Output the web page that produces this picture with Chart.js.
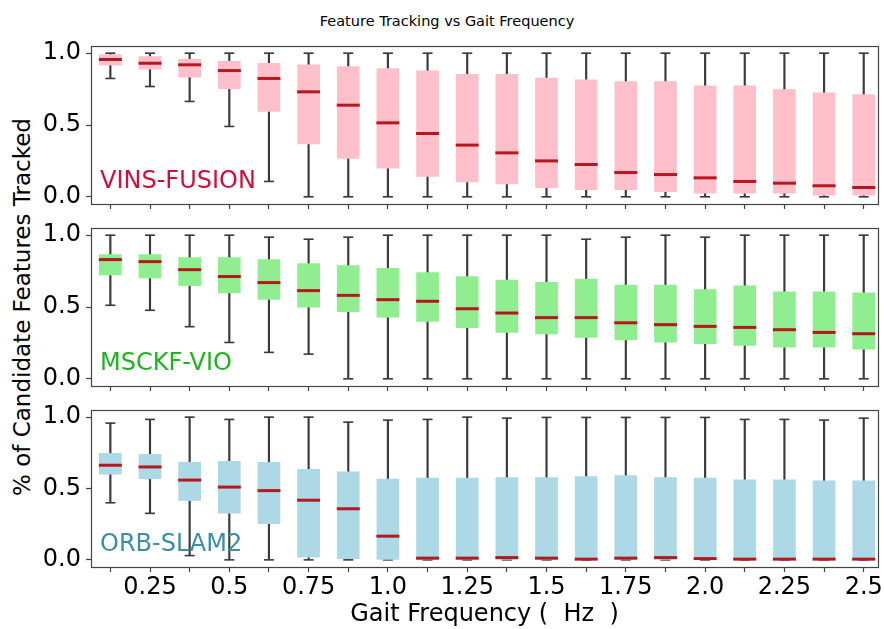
<!DOCTYPE html>
<html>
<head>
<meta charset="utf-8">
<script src="https://cdn.jsdelivr.net/npm/chart.js@4.4.1/dist/chart.umd.min.js"></script>
<style>
  body { margin: 0; background: #fff; width: 884px; height: 629px; position: relative; overflow: hidden; font-family: 'DejaVu Sans', sans-serif; }
  canvas { position: absolute; left: 0; }
  #title { position: absolute; top: 14px; left: 447px; transform: translateX(-50%); font-size: 14.5px; line-height: 1; white-space: nowrap; color: #000; }
  #ylab { position: absolute; left: 22px; top: 307px; transform: translate(-50%, -50%) rotate(-90deg); font-size: 23px; line-height: 1; white-space: nowrap; color: #000; }
</style>
</head>
<body>
<div id="title">Feature Tracking vs Gait Frequency</div>
<div id="ylab">% of Candidate Features Tracked</div>
<canvas id="vins" width="884" height="180" style="top:40px"></canvas>
<canvas id="msckf" width="884" height="180" style="top:222px"></canvas>
<canvas id="orb" width="884" height="226" style="top:403px"></canvas>
<script>
// gait frequencies (Hz), one box per value
const gaitFreq = [0.125, 0.25, 0.375, 0.5, 0.625, 0.75, 0.875, 1.0, 1.125, 1.25,
                  1.375, 1.5, 1.625, 1.75, 1.875, 2.0, 2.125, 2.25, 2.375, 2.5];
const tickLabels = ['', '0.25', '', '0.5', '', '0.75', '', '1.0', '', '1.25',
                    '', '1.5', '', '1.75', '', '2.0', '', '2.25', '', '2.5'];
const yTicks = [0, 0.5, 1.0];

// VINS-FUSION
const vinsMin = [0.824, 0.768, 0.664, 0.49, 0.107, 0, 0, 0, 0, 0, 0, 0, 0, 0, 0, 0, 0, 0, 0, 0];
const vinsQ1  = [0.917, 0.889, 0.833, 0.752, 0.594, 0.369, 0.267, 0.2, 0.142, 0.104, 0.09, 0.063, 0.049, 0.049, 0.035, 0.026, 0.026, 0.026, 0.012, 0.012];
const vinsMed = [0.956, 0.93, 0.919, 0.879, 0.824, 0.731, 0.638, 0.515, 0.441, 0.36, 0.306, 0.25, 0.225, 0.169, 0.155, 0.132, 0.107, 0.095, 0.077, 0.065];
const vinsQ3  = [0.99, 0.977, 0.958, 0.944, 0.93, 0.919, 0.907, 0.893, 0.877, 0.852, 0.852, 0.826, 0.814, 0.803, 0.803, 0.773, 0.773, 0.747, 0.724, 0.712];
const vinsMax = [1, 1, 1, 1, 1, 1, 1, 1, 1, 1, 1, 1, 1, 1, 1, 1, 1, 1, 1, 1];

// MSCKF-VIO
const msckfMin = [0.512, 0.477, 0.363, 0.253, 0.184, 0.172, 0, 0, 0, 0, 0, 0, 0, 0, 0, 0, 0, 0, 0, 0];
const msckfQ1  = [0.723, 0.702, 0.649, 0.598, 0.553, 0.498, 0.467, 0.43, 0.4, 0.356, 0.323, 0.312, 0.288, 0.27, 0.256, 0.244, 0.233, 0.221, 0.221, 0.207];
const msckfMed = [0.83, 0.816, 0.76, 0.712, 0.67, 0.614, 0.581, 0.551, 0.54, 0.488, 0.458, 0.426, 0.426, 0.39, 0.377, 0.365, 0.358, 0.342, 0.323, 0.314];
const msckfQ3  = [0.865, 0.865, 0.844, 0.844, 0.83, 0.802, 0.788, 0.77, 0.74, 0.712, 0.688, 0.672, 0.695, 0.653, 0.653, 0.621, 0.647, 0.605, 0.605, 0.598];
const msckfMax = [1, 1, 1, 1, 0.986, 0.972, 0.986, 1, 1, 1, 1, 1, 0.972, 0.986, 1, 0.986, 1, 1, 1, 1];

// ORB-SLAM2
const orbMin = [0.4, 0.326, 0.03, 0, 0, 0, 0, 0, 0, 0, 0, 0, 0, 0, 0, 0, 0, 0, 0, 0];
const orbQ1  = [0.6, 0.568, 0.416, 0.328, 0.254, 0.018, 0.009, 0, 0, 0, 0, 0, 0, 0, 0, 0, 0, 0, 0, 0];
const orbMed = [0.663, 0.651, 0.559, 0.51, 0.485, 0.418, 0.358, 0.166, 0.012, 0.012, 0.016, 0.012, 0.005, 0.012, 0.016, 0.009, 0.005, 0.005, 0.005, 0.005];
const orbQ3  = [0.746, 0.739, 0.684, 0.69, 0.684, 0.635, 0.617, 0.566, 0.573, 0.573, 0.577, 0.577, 0.584, 0.591, 0.577, 0.573, 0.561, 0.561, 0.554, 0.554];
const orbMax = [0.958, 0.984, 1.0, 0.984, 1.0, 1.0, 0.965, 0.979, 0.984, 1.0, 0.993, 0.998, 0.998, 0.998, 0.998, 0.998, 0.984, 0.984, 0.979, 0.993];

const FONT = "'DejaVu Sans', sans-serif";
const LINE = '#3a3a3a';

// frame around plot area + method name in lower left
const panelLabel = {
  id: 'panelLabel',
  afterDraw(chart, args, opts) {
    const { ctx, chartArea } = chart;
    ctx.save();
    ctx.strokeStyle = '#444';
    ctx.lineWidth = 1.2;
    ctx.strokeRect(Math.round(chartArea.left) + 0.5, Math.round(chartArea.top) + 0.5,
      Math.round(chartArea.right - chartArea.left), Math.round(chartArea.bottom - chartArea.top));
    ctx.font = '24px ' + FONT;
    ctx.fillStyle = opts.color;
    ctx.textBaseline = 'alphabetic';
    ctx.fillText(opts.text, chartArea.left + 9, chartArea.bottom - 16);
    ctx.restore();
  }
};

const pts = (arr) => arr.map((v, i) => ({ x: gaitFreq[i], y: v }));

function makePanel(id, name, nameColor, boxColor, mins, q1, med, q3, maxs, showX, padTop, xHeight) {
  const ctx = document.getElementById(id).getContext('2d');
  return new Chart(ctx, {
    type: 'bar',
    data: {
      datasets: [{
        label: 'whisker',
        data: mins.map((v, i) => ({ x: gaitFreq[i], y: [v, maxs[i]] })),
        backgroundColor: LINE,
        barThickness: 1.5,
        grouped: false,
        order: 4
      },
      {
        type: 'scatter',
        label: 'caps',
        data: pts(mins).concat(pts(maxs)),
        pointStyle: 'line',
        pointRadius: 5,
        pointBorderWidth: 1.6,
        borderColor: LINE,
        pointBorderColor: LINE,
        order: 3
      },
      {
        label: 'box',
        data: q1.map((v, i) => ({ x: gaitFreq[i], y: [v, q3[i]] })),
        backgroundColor: boxColor,
        borderWidth: 0,
        barThickness: 22,
        grouped: false,
        order: 2
      },
      {
        type: 'scatter',
        label: 'median',
        data: pts(med),
        pointStyle: 'line',
        pointRadius: 11.5,
        pointBorderWidth: 3,
        borderColor: '#b5191f',
        pointBorderColor: '#b5191f',
        order: 1
      }]
    },
    options: {
      responsive: false,
      animation: false,
      events: [],
      layout: { autoPadding: false, padding: { top: padTop, right: 6, left: 0, bottom: 0 } },
      plugins: {
        legend: { display: false },
        tooltip: { enabled: false },
        panelLabel: { text: name, color: nameColor }
      },
      scales: {
        x: {
          type: 'linear',
          min: 0.064,
          max: 2.545,
          offset: false,
          grid: { offset: false, drawOnChartArea: false, drawTicks: true, tickLength: 5, color: '#444', tickWidth: 1.2 },
          border: { display: false },
          afterBuildTicks: (scale) => { scale.ticks = gaitFreq.map(v => ({ value: v })); },
          afterFit: (scale) => {
            scale.height = xHeight;
            scale.paddingLeft = 0;
            scale.paddingRight = 0;
          },
          ticks: {
            display: showX,
            autoSkip: false,
            maxRotation: 0,
            padding: 1,
            color: '#000',
            font: { family: FONT, size: 24 },
            callback: (value, index) => tickLabels[index]
          },
          title: {
            display: showX,
            text: 'Gait Frequency (  Hz  )',
            color: '#000',
            font: { family: FONT, size: 24 },
            padding: { top: 0, bottom: 0 }
          }
        },
        y: {
          min: -0.05,
          max: 1.05,
          grid: { drawOnChartArea: false, drawTicks: true, tickLength: 5, color: '#444', tickWidth: 1.2 },
          border: { display: false },
          afterBuildTicks: (scale) => { scale.ticks = yTicks.map(v => ({ value: v })); },
          afterFit: (scale) => {
            scale.width = 91;
            scale.paddingTop = 0;
            scale.paddingBottom = 0;
          },
          ticks: {
            padding: 5,
            color: '#000',
            font: { family: FONT, size: 24 },
            callback: (value) => value.toFixed(1)
          }
        }
      }
    },
    plugins: [panelLabel]
  });
}

makePanel('vins', 'VINS-FUSION', '#d0103a', '#ffc0cb', vinsMin, vinsQ1, vinsMed, vinsQ3, vinsMax, false, 6, 16);
makePanel('msckf', 'MSCKF-VIO', '#1fb41f', '#90ee90', msckfMin, msckfQ1, msckfMed, msckfQ3, msckfMax, false, 6, 16);
makePanel('orb', 'ORB-SLAM2', '#3b8ea5', '#add8e6', orbMin, orbQ1, orbMed, orbQ3, orbMax, true, 7, 62);
</script>
</body>
</html>
